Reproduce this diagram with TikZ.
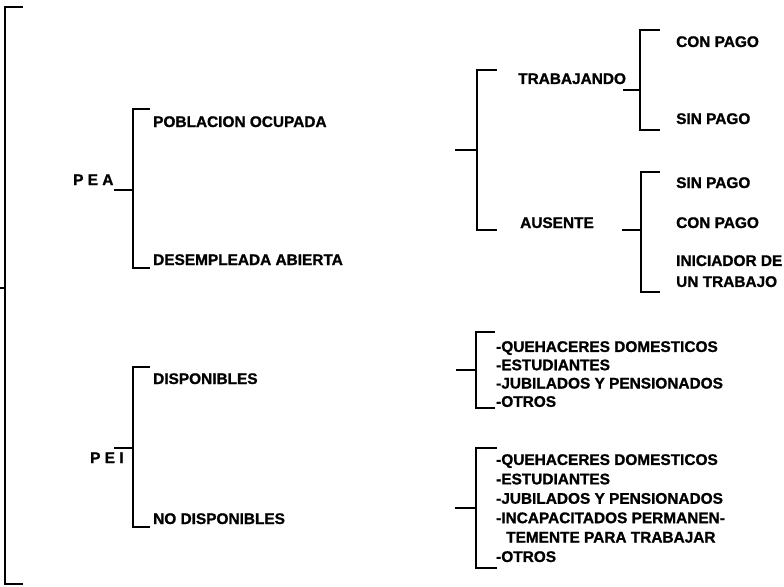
\documentclass[tikz,border=0pt]{standalone}
\usepackage{fontspec}
\setmainfont{Liberation Sans}[BoldFeatures={FakeBold=1.2}]
\newcommand\mybrk[7]{% name, x of stem, y top, y bottom, x of ends, y of tick, x of tick start
  \coordinate (#1t) at (#5,#3);
  \coordinate (#1tc) at (#2,#3);
  \coordinate (#1bc) at (#2,#4);
  \coordinate (#1b) at (#5,#4);
  \coordinate (#1s) at (#7,#6);
  \coordinate (#1m) at (#2,#6);
  \draw[brk] (#1t) -- (#1tc) -- (#1bc) -- (#1b);
  \draw[brk] (#1s) -- (#1m);}
\begin{document}
\begin{tikzpicture}[x=1pt,y=-1pt,
  lbl/.style={anchor=base west, inner sep=0pt, font=\fontsize{15.4}{18}\selectfont\bfseries},
  lst/.style={anchor=north west, inner sep=0pt, align=left},
  brk/.style={line width=1.6pt, line join=miter}]
\useasboundingbox (0,0) rectangle (784,586);
% brackets
\mybrk{all}{5}{7}{584}{23}{288}{0}
\mybrk{pea}{133}{109}{268}{150}{190}{114}
\mybrk{pei}{133}{367}{527}{150}{448}{114}
\mybrk{ocu}{477}{70}{230}{497}{150}{455}
\mybrk{trb}{640}{30}{130}{660}{90}{623}
\mybrk{aus}{641}{172}{292}{660}{230}{622}
\mybrk{dis}{476}{332}{408}{495}{370}{456}
\mybrk{nod}{476}{448}{568}{497}{508}{455}
% labels
\node[lbl] (peaL) at (73,185) {P E A};
\node[lbl] (peiL) at (90,463) {P E I};
\node[lbl] (pob) at (153,127) {POBLACION OCUPADA};
\node[lbl] (des) at (153,265) {DESEMPLEADA ABIERTA};
\node[lbl] (disp) at (153,384) {DISPONIBLES};
\node[lbl] (nodisp) at (153,524) {NO DISPONIBLES};
\node[lbl] (trab) at (518,84) {TRABAJANDO};
\node[lbl] (ause) at (520,228) {AUSENTE};
\node[lbl] (cp1) at (676,47) {CON PAGO};
\node[lbl] (sp1) at (676,124) {SIN PAGO};
\node[lbl] (sp2) at (676,188) {SIN PAGO};
\node[lbl] (cp2) at (676,228) {CON PAGO};
\node[lbl,lst,font=\fontsize{15.4}{21}\selectfont\bfseries] (ini) at (676,255) {INICIADOR DE\\UN TRABAJO};
\node[lbl,lst,font=\fontsize{15.4}{18.3}\selectfont\bfseries] (l1) at (496,341)
  {-QUEHACERES DOMESTICOS\\-ESTUDIANTES\\-JUBILADOS Y PENSIONADOS\\-OTROS};
\node[lbl,lst,font=\fontsize{15.4}{19.4}\selectfont\bfseries] (l2) at (496,454)
  {-QUEHACERES DOMESTICOS\\-ESTUDIANTES\\-JUBILADOS Y PENSIONADOS\\-INCAPACITADOS PERMANEN-\\\hspace*{10pt}TEMENTE PARA TRABAJAR\\-OTROS};
\end{tikzpicture}
\end{document}
